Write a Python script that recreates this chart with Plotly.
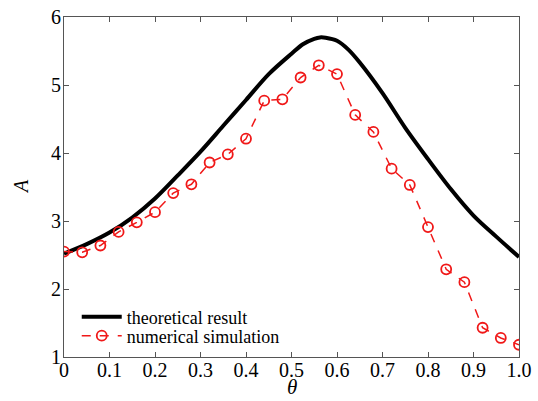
import plotly.graph_objects as go

theta_theory = [0.0, 0.05, 0.10, 0.15, 0.20, 0.25, 0.30, 0.35, 0.40, 0.45, 0.50, 0.525, 0.55, 0.5625, 0.575, 0.60, 0.625, 0.65, 0.70, 0.75, 0.80, 0.85, 0.90, 0.95, 1.0]
A_theory = [2.52, 2.66, 2.83, 3.05, 3.33, 3.67, 4.02, 4.40, 4.78, 5.16, 5.46, 5.60, 5.68, 5.70, 5.695, 5.65, 5.52, 5.33, 4.88, 4.37, 3.91, 3.47, 3.08, 2.77, 2.47]

theta_sim = [0.00, 0.04, 0.08, 0.12, 0.16, 0.20, 0.24, 0.28, 0.32, 0.36, 0.40, 0.44, 0.48,
             0.52, 0.56, 0.60, 0.64, 0.68, 0.72, 0.76, 0.80, 0.84, 0.88, 0.92, 0.96, 1.00]
A_sim = [2.55, 2.54, 2.64, 2.84, 2.98, 3.13, 3.41, 3.54, 3.86, 3.98, 4.21, 4.77, 4.79,
         5.11, 5.29, 5.16, 4.56, 4.31, 3.77, 3.53, 2.91, 2.29, 2.10, 1.43, 1.28, 1.18]

x_tickvals = [0, 0.1, 0.2, 0.3, 0.4, 0.5, 0.6, 0.7, 0.8, 0.9, 1.0]
x_ticktext = ["0", "0.1", "0.2", "0.3", "0.4", "0.5", "0.6", "0.7", "0.8", "0.9", "1.0"]
y_tickvals = [1, 2, 3, 4, 5, 6]

FONT = "Liberation Serif"
RED = "#f01818"

fig = go.Figure()
fig.add_trace(go.Scatter(
    x=theta_theory, y=A_theory, mode="lines", name="theoretical result",
    line=dict(color="black", width=4, shape="spline", smoothing=0.9),
    legend="legend",
))
fig.add_trace(go.Scatter(
    x=theta_sim, y=A_sim, mode="lines+markers", name="numerical simulation",
    line=dict(color=RED, width=1.5, dash="dash"),
    marker=dict(symbol="circle-open", size=10, color=RED, line=dict(width=1.8, color=RED)),
    legend="legend2",
))

axis_common = dict(
    showline=True, linecolor="#555555", linewidth=1, mirror="ticks",
    ticks="inside", ticklen=5, tickcolor="#555555", tickwidth=1,
    showgrid=False, zeroline=False, automargin=False,
    tickfont=dict(family=FONT, size=20, color="black"),
)

legend_common = dict(xanchor="left", yanchor="middle", bgcolor="rgba(0,0,0,0)",
                     font=dict(family=FONT, size=18, color="black"), itemwidth=40)

fig.update_layout(
    width=538, height=401,
    margin=dict(l=64, r=19, t=17, b=44),
    paper_bgcolor="white", plot_bgcolor="white",
    font=dict(family=FONT, color="black"),
    xaxis=dict(range=[0, 1], tickvals=x_tickvals, ticktext=x_ticktext,
               ticklabelstandoff=-5, **axis_common),
    yaxis=dict(range=[1, 6], tickvals=y_tickvals, ticklabelstandoff=-2, **axis_common),
    legend=dict(x=0.028, y=0.1176, **legend_common),
    legend2=dict(x=0.028, y=0.0618, **legend_common),
    showlegend=True,
    annotations=[
        dict(text="<i>θ</i>", xref="paper", yref="paper", x=0.5, y=-0.1294,
             xanchor="center", yanchor="bottom", showarrow=False,
             font=dict(family=FONT, size=21, color="black")),
        dict(text="<i>A</i>", xref="paper", yref="paper", x=-0.0945, y=0.5,
             xanchor="center", yanchor="middle", showarrow=False, textangle=-90,
             font=dict(family=FONT, size=20, color="black")),
    ],
)

fig.write_html("out.html", config={"displayModeBar": False},
               post_script="document.body.style.margin='0';document.body.style.overflow='hidden';")
